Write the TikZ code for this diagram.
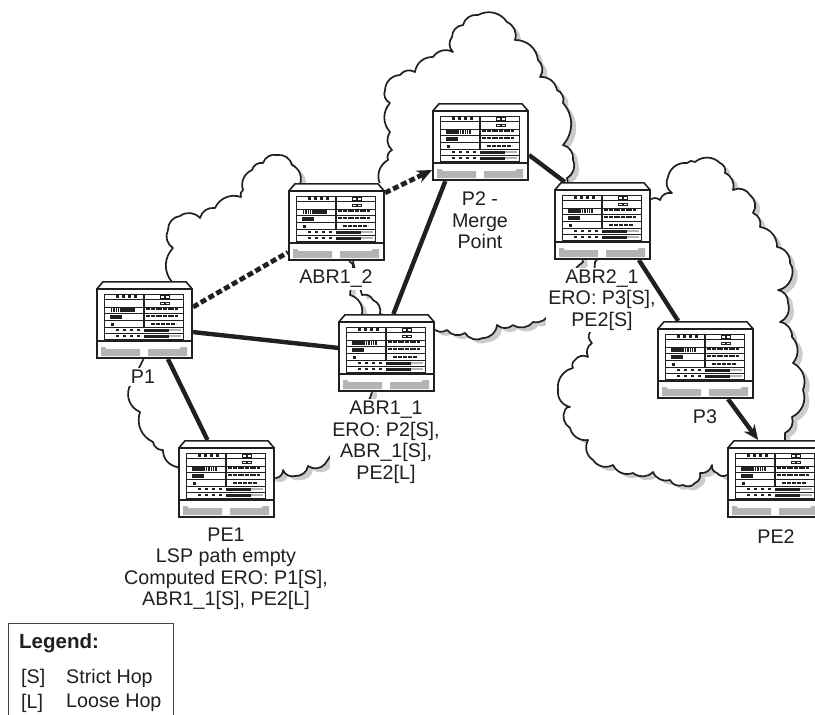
\documentclass[tikz,border=0pt]{standalone}
\usepackage{fontspec}
\setmainfont{Liberation Sans}
\usetikzlibrary{arrows.meta}
\definecolor{shadowgrey}{HTML}{C9CDCD}
\definecolor{bargrey}{HTML}{B4B4B8}
\definecolor{ink}{HTML}{231F20}
\tikzset{
  b/.style={bend left=42},
  cloudline/.style={draw=ink,line width=1.7pt,fill=white,line join=round},
  cloudshadow/.style={fill=shadowgrey,shift={(5pt,-4pt)}},
  devicebox/.style={rectangle,fill=white,minimum width=97pt,minimum height=78pt,inner sep=0pt,outer sep=0pt},
  lab/.style={align=center,fill=white,inner sep=2pt,text=ink,font=\fontsize{19.7}{21.5}\selectfont},
  legendtext/.style={anchor=west,inner sep=0pt,text=ink,font=\fontsize{19.7}{21.5}\selectfont},
  solidlink/.style={draw=ink,line width=4.4pt},
  dashlink/.style={draw=ink,line width=4.8pt,dash pattern=on 6pt off 3pt},
  arrowlink/.style={-{Stealth[length=15pt,width=13pt]}},
  pics/router/.style={code={
    \fill[white] (0,8)--(7,0)--(90,0)--(97,8)--(97,78)--(0,78)--cycle;
    \draw[ink,line width=1.6pt,line join=miter] (0.8,8)--(7,0.8)--(90,0.8)--(96.2,8);
    \draw[ink,line width=1.8pt] (0.9,8)rectangle(96.1,77.1);
    \draw[ink,line width=2pt] (0.9,60)--(96.1,60);
    \fill[bargrey] (5,66)--(9,66)--(11,68)--(44,68)--(44,75)--(5,75)--cycle;
    \fill[bargrey] (52,68)--(83,68)--(85,66)--(91,66)--(91,75)--(52,75)--cycle;
    \draw[ink,line width=.8pt] (8,13)rectangle(87,58);
    \draw[ink,line width=.7pt] (8,18.3)--(47,18.3) (8,26)--(87,26) (8,32.7)--(87,32.7) (8,39)--(87,39) (49,18.3)--(87,18.3);
    \draw[ink,line width=.8pt] (8,46)--(87,46) (8,52.3)--(87,52.3);
    \draw[ink,line width=1.2pt] (48,13)--(48,45.5);
    \foreach \px in {20,26,32,38}{\fill[ink] (\px,14.2)rectangle(\px+2.8,16.8);}
    \foreach \py in {14.2,21}{\draw[ink,line width=.6pt] (64,\py)rectangle(68,\py+2.6) (69,\py)rectangle(73,\py+2.6);}
    \fill[ink] (14,27)rectangle(39,31.4);
    \fill[white] (14,31.4)rectangle(39,32.2);
    \fill[ink] (14,34.2)rectangle(26,38.4);
    \foreach \hx in {0,2.4,...,10}{\draw[white,line width=.4pt] (#1+\hx,27)--(#1+\hx,31.4);}
    \fill[ink] (15,42)rectangle(18,44.7);
    \draw[ink,line width=2pt,dash pattern=on 2pt off .4pt] (50,28.4)--(82,28.4) (50,34.6)--(82,34.6);
    \draw[ink,line width=1.7pt,dash pattern=on 4pt off 1pt] (55,43.3)--(80,43.3);
    \foreach \py in {49.2,55.2}{
      \foreach \px in {20,27,34,41}{\fill[ink] (\px,\py-1.1)rectangle(\px+2.8,\py+1.1);}
      \fill[bargrey] (73,\py-1)rectangle(85,\py+1);
      \fill[ink] (48,\py-1.3)rectangle(73,\py+1.3);
    }
  }}
}
\newcommand{\cloudleft}{(172,282) to[b] (173,248) to[b] (168,230) to[b] (180,216) to[b] (200,218) to[b] (215,208) to[b] (241,197) to[b] (243,190) to[b] (252,170) to[b] (263,163) to[b] (277,155) to[b] (292,165) to[b] (300,184) -- (350,262) to[b] (353,266) -- (350,295) to[b] (362,314) -- (372,392) -- (370,398) -- (325,464) to[b] (308,466) to[b] (295,476) to[b] (283,470) to[b] (276,478) -- (178,467) to[b] (163,450) to[b] (153,442) to[b] (140,412) to[b] (129,388) -- (143,360) -- cycle}
\newcommand{\cloudmiddle}{(380,184) to[b] (388,160) to[b] (392,150) to[b] (390,132) to[b] (390,103) to[b] (385,90) to[b] (400,75) to[b] (415,72) to[b] (433,57) to[b] (453,52) to[b] (452,37) to[b] (463,25) to[b] (478,15) to[b] (507,22) to[b] (515,40) to[b] (538,60) to[b] (540,77) to[b] (557,90) to[b] (563,103) to[b] (563,145) to[b] (573,160) to[b] (567,178) -- (583,262) -- (577,267) -- (550,312) to[b] (533,322) to[b] (513,325) to[b] (497,325) to[b] (483,338) to[b] (465,333) to[b] (447,330) to[b] (433,328) -- (380,314) to[bend right=40] (373,300) to[bend right=40] (362,295) -- (353,262) -- cycle}
\newcommand{\cloudright}{(650,200) to[b] (660,200) to[b] (672,193) to[b] (668,177) to[b] (687,163) to[b] (695,162) to[b] (720,163) to[b] (725,173) to[b] (733,190) to[b] (750,195) to[b] (753,213) to[b] (760,227) to[b] (777,247) to[b] (790,263) to[bend left=60] (778,290) to[b] (788,303) to[b] (780,322) to[b] (792,337) to[b] (793,363) to[b] (803,390) to[b] (792,417) to[b] (785,433) -- (785,442) -- (727,475) to[b] (717,473) to[b] (712,465) to[b] (700,473) to[b] (695,483) to[b] (683,485) to[b] (670,480) to[b] (653,472) to[b] (633,473) to[b] (613,465) to[b] (593,460) to[b] (588,440) to[b] (570,428) to[b] (565,410) to[b] (570,407) to[b] (558,390) to[b] (573,368) to[b] (575,360) to[b] (588,357) to[b] (592,343) to[b] (590,332) -- (595,262) -- cycle}
\begin{document}
\begin{tikzpicture}[x=1pt,y=-1pt]
\clip (0,0) rectangle (815,715);
\fill[white] (0,0) rectangle (815,715);
% clouds
\fill[cloudshadow] \cloudleft;
\path[cloudline] \cloudleft;
\fill[cloudshadow] \cloudright;
\path[cloudline] \cloudright;
\fill[cloudshadow] \cloudmiddle;
\path[cloudline] \cloudmiddle;
% devices
\node[devicebox] (P1) at (144.5,320) {};
\node[devicebox] (ABR12) at (336.5,222) {};
\node[devicebox] (ABR11) at (386.5,353) {};
\node[devicebox] (P2) at (480.5,142) {};
\node[devicebox] (ABR21) at (602.5,221) {};
\node[devicebox] (P3) at (705.5,360) {};
\node[devicebox] (PE2) at (775.5,479) {};
\node[devicebox] (PE1) at (226.5,479) {};
% labels
\node[lab] (lP1) at (143,377) {P1};
\node[lab] (lABR12) at (336,279) {ABR1\_2};
\node[lab] (lABR11) at (386,442.5) {ABR1\_1\\ERO: P2[S],\\ABR\_1[S],\\PE2[L]};
\node[lab] (lP2) at (480,220.5) {P2 -\\Merge\\Point};
\node[lab] (lABR21) at (602,300) {ABR2\_1\\ERO: P3[S],\\PE2[S]};
\node[lab] (lP3) at (705,417) {P3};
\node[lab] (lPE2) at (776,537) {PE2};
\node[lab] (lPE1) at (226,569) {PE1\\LSP path empty\\Computed ERO: P1[S],\\ABR1\_1[S], PE2[L]};
% connectors
\draw[dashlink] (P1.15) -- (ABR12.212);
\draw[dashlink,arrowlink] (ABR12.31) -- (P2.210);
\draw[solidlink] (P1.-14) -- (ABR11.174);
\draw[solidlink] (P1.-59.5) -- (PE1.116.6);
\draw[solidlink] (ABR11.80) -- (P2.228);
\draw[solidlink] (P2.-15) -- (ABR21.134);
\draw[solidlink] (ABR21.-47.7) -- (P3.125.7);
\draw[solidlink,arrowlink] (P3.-60.6) -- (PE2.114.8);
% device drawings
\pic at (P1.north west) {router=14};
\pic at (ABR12.north west) {router=14};
\pic at (ABR11.north west) {router=27};
\pic at (P2.north west) {router=27};
\pic at (ABR21.north west) {router=27};
\pic at (P3.north west) {router=27};
\pic at (PE2.north west) {router=27};
\pic at (PE1.north west) {router=27};
% legend
\draw[ink!85,line width=1pt] (8.5,716) -- (8.5,623.5) -- (173,623.5) -- (173,716);
\node[legendtext,font=\fontsize{20.5}{22}\selectfont\bfseries] (legendtitle) at (19,643) {Legend:};
\node[legendtext] (ls) at (21,678) {[S]};
\node[legendtext] (lstext) at (66,678) {Strict Hop};
\node[legendtext] (ll) at (21,703) {[L]};
\node[legendtext] (lltext) at (66,703) {Loose Hop};
\end{tikzpicture}
\end{document}
